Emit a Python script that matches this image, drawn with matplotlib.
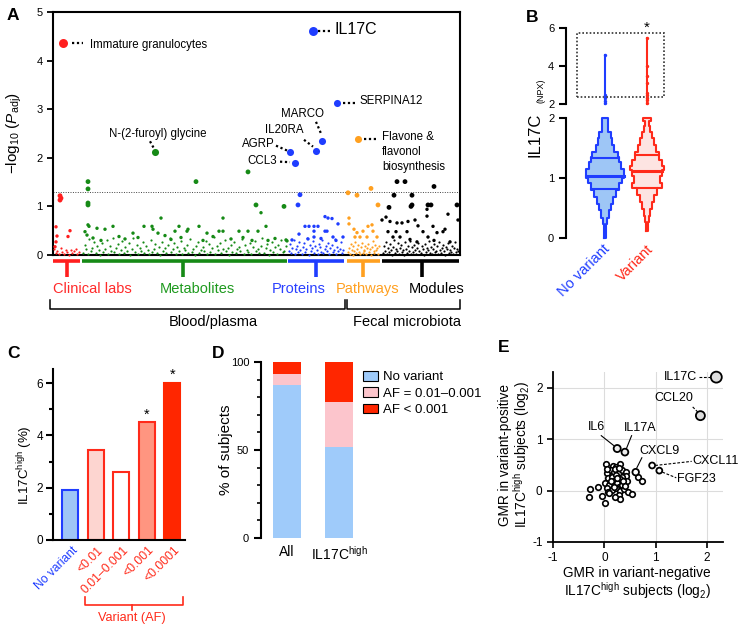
import matplotlib
matplotlib.use('Agg')
import matplotlib.pyplot as plt
import matplotlib.transforms as mtransforms
from matplotlib.patches import Rectangle, Patch
import numpy as np

plt.rcParams['font.family'] = ['Liberation Sans', 'DejaVu Sans']
plt.rcParams['mathtext.fontset'] = 'custom'
plt.rcParams['mathtext.rm'] = 'Liberation Sans'
plt.rcParams['mathtext.it'] = 'Liberation Sans:italic'
plt.rcParams['mathtext.bf'] = 'Liberation Sans:bold'
plt.rcParams['axes.unicode_minus'] = False

# ---------------- data ----------------
# Panel A : position along the feature axis, -log10(Padj)
red_x = [7, 8, 7, 3, 4, 17, 15, 3, 2]
red_y = [1.22, 1.17, 1.13, 0.58, 0.39, 0.50, 0.38, 0.27, 0.17]
red_low = [0.12, 0.05, 0.09, 0.02, 0.14, 0.07, 0.03, 0.10, 0.06, 0.01, 0.11, 0.04, 0.08, 0.13, 0.02, 0.06]

green_x = [35, 35, 35, 35, 35, 36, 32, 34, 44, 52, 60, 80, 91, 99, 100, 105, 108, 122, 126, 134, 135,
           143, 146, 154, 166, 170, 170, 186, 195, 195, 203, 205, 208, 213, 215, 231, 234, 233,
           40, 48, 66, 72, 85, 112, 118, 128, 150, 160, 178, 190, 199, 222]
green_y = [1.51, 1.36, 1.07, 1.03, 0.62, 0.59, 0.48, 0.41, 0.55, 0.53, 0.59, 0.45, 0.59, 0.59, 0.53, 0.45, 0.76, 0.49, 0.59, 0.49, 0.53,
           1.51, 0.59, 0.45, 0.49, 0.76, 0.49, 0.49, 1.71, 0.49, 1.03, 0.49, 0.87, 0.59, 0.30, 1.00, 0.29, 0.31,
           0.35, 0.30, 0.38, 0.33, 0.36, 0.40, 0.32, 0.36, 0.30, 0.38, 0.33, 0.36, 0.30, 0.34]
green_low = [0.05, 0.21, 0.12, 0.02, 0.33, 0.08, 0.15, 0.27, 0.04, 0.18, 0.10, 0.01, 0.24, 0.07, 0.13, 0.30, 0.03, 0.19,
             0.09, 0.36, 0.06, 0.14, 0.22, 0.02, 0.11, 0.28, 0.05, 0.17, 0.08, 0.25, 0.01, 0.12, 0.34, 0.06, 0.20, 0.03,
             0.15, 0.09, 0.26, 0.04, 0.18, 0.11, 0.02, 0.31, 0.07, 0.13, 0.22, 0.05, 0.16, 0.01, 0.27, 0.09, 0.14, 0.04,
             0.20, 0.35, 0.06, 0.12, 0.24, 0.03, 0.17, 0.08, 0.29, 0.02, 0.15, 0.10, 0.21, 0.05, 0.33, 0.07, 0.13, 0.01,
             0.19, 0.26, 0.04, 0.11, 0.16, 0.09, 0.28, 0.03, 0.22, 0.06, 0.14, 0.38, 0.02, 0.18, 0.10, 0.25, 0.05, 0.12,
             0.30, 0.08, 0.15, 0.01, 0.21, 0.07, 0.27, 0.04, 0.13, 0.17, 0.09, 0.32, 0.03, 0.20, 0.11, 0.06, 0.24, 0.02,
             0.16, 0.28, 0.08, 0.12, 0.05, 0.19, 0.35, 0.04, 0.14, 0.23, 0.01, 0.10, 0.26, 0.07, 0.17, 0.03, 0.21, 0.13,
             0.30, 0.06, 0.09, 0.18]

blue_x = [247, 245, 252, 256, 261, 261, 265, 272, 275, 279, 272, 274, 285, 290, 246, 239, 261, 280, 283, 268, 255]
blue_y = [1.24, 1.03, 0.59, 0.59, 0.59, 0.49, 0.59, 0.79, 0.76, 0.75, 0.49, 0.49, 0.64, 0.37, 0.43, 0.31, 0.37, 0.37, 0.30, 0.34, 0.33]
blue_low = [0.08, 0.22, 0.04, 0.15, 0.31, 0.02, 0.12, 0.19, 0.06, 0.27, 0.10, 0.03, 0.17, 0.24, 0.07, 0.13, 0.35, 0.01,
            0.20, 0.09, 0.14, 0.28, 0.05, 0.18, 0.11, 0.02, 0.23, 0.16, 0.07, 0.30, 0.04, 0.12, 0.19, 0.09, 0.25, 0.03,
            0.15, 0.21, 0.06, 0.11, 0.33, 0.02, 0.17, 0.08, 0.13, 0.26, 0.05, 0.10]

orange_x = [295, 304, 318, 325, 296, 296, 301, 304, 307, 310, 315, 319, 320, 314, 302, 324]
orange_y = [1.28, 1.23, 1.37, 1.03, 0.76, 0.64, 0.53, 0.46, 0.37, 0.49, 0.59, 0.62, 0.49, 0.37, 0.37, 0.37]
orange_low = [0.06, 0.15, 0.03, 0.22, 0.10, 0.01, 0.18, 0.08, 0.27, 0.04, 0.13, 0.20, 0.07, 0.02, 0.16, 0.25, 0.05, 0.11,
              0.09, 0.19, 0.03, 0.14, 0.23, 0.06, 0.12, 0.01, 0.17, 0.28, 0.08, 0.04, 0.21, 0.10, 0.15, 0.02, 0.18]

black_x = [344, 352, 381, 341, 359, 336, 359, 358, 375, 378, 374, 374, 395, 404, 405, 333, 329, 337, 344, 349, 355, 362,
           365, 380, 392, 335, 343, 354, 370, 384, 390, 340, 347, 357, 375, 381, 364, 397]
black_y = [1.51, 1.51, 1.41, 1.23, 1.23, 0.98, 1.03, 1.00, 1.03, 1.03, 0.94, 0.80, 0.84, 1.03, 0.72, 0.78, 0.72, 0.69, 0.66,
           0.66, 0.69, 0.72, 0.60, 0.59, 0.53, 0.48, 0.48, 0.48, 0.48, 0.46, 0.48, 0.37, 0.37, 0.32, 0.37, 0.30, 0.27, 0.27]
black_low = [0.04, 0.19, 0.09, 0.27, 0.02, 0.14, 0.06, 0.22, 0.11, 0.01, 0.17, 0.30, 0.05, 0.12, 0.08, 0.24, 0.03, 0.15,
             0.20, 0.07, 0.10, 0.01, 0.26, 0.13, 0.04, 0.18, 0.09, 0.29, 0.02, 0.16, 0.06, 0.21, 0.11, 0.03, 0.14, 0.25,
             0.08, 0.05, 0.19, 0.12, 0.01, 0.23, 0.07, 0.15, 0.10, 0.28, 0.04, 0.17, 0.02, 0.13, 0.22, 0.06, 0.09, 0.18,
             0.03, 0.26, 0.11, 0.05, 0.14, 0.20, 0.08, 0.01, 0.16, 0.12, 0.24, 0.04, 0.10, 0.07, 0.19, 0.02, 0.15, 0.27,
             0.06, 0.13, 0.09]

group_names = ['Clinical labs', 'Metabolites', 'Proteins', 'Pathways', 'Modules']
group_span = [(0, 27), (29, 234), (235, 291), (294, 327), (329, 406)]

hl_names = ['Immature granulocytes', 'N-(2-furoyl) glycine', 'AGRP', 'CCL3', 'IL20RA', 'MARCO',
            'IL17C', 'SERPINA12', 'Flavone &\nflavonol\nbiosynthesis']
hl_group = [0, 1, 2, 2, 2, 2, 2, 2, 3]
hl_x = [10, 102, 237, 242, 263, 269, 260, 284, 305]
hl_y = [4.37, 2.12, 2.12, 1.90, 2.15, 2.34, 4.60, 3.13, 2.38]

# Panel B : IL17C (NPX) violin outlines (level, half-width in px)
nv_levels = [0.0, 0.11, 0.23, 0.34, 0.46, 0.57, 0.69, 0.80, 0.92, 1.00, 1.15, 1.27, 1.35, 1.43, 1.55, 1.66, 1.77, 1.89, 2.0]
nv_width = [1.0, 1.3, 2.3, 4.0, 5.7, 8.0, 10.7, 14.0, 16.7, 19.0, 16.0, 14.0, 12.7, 9.3, 7.3, 6.0, 3.3, 2.7, 1.0]
var_levels = [0.12, 0.26, 0.37, 0.49, 0.60, 0.72, 0.83, 0.92, 1.04, 1.13, 1.20, 1.30, 1.43, 1.55, 1.66, 1.77, 1.86, 1.95, 2.0]
var_width = [1.3, 2.0, 3.3, 5.0, 7.3, 10.0, 15.0, 13.3, 15.0, 17.3, 15.0, 11.7, 9.3, 6.7, 5.0, 3.3, 1.7, 4.0, 2.0]
nv_quart = [0.82, 1.04, 1.33]
var_quart = [0.83, 1.12, 1.38]
nv_high = [2.05, 2.15, 2.3, 2.45, 4.6]
var_high = [2.05, 2.2, 2.3, 2.45, 2.6, 3.1, 3.5, 4.0, 5.45]

# Panel C : IL17C-high frequency (%)
c_labels = ['No variant', '<0.01', '0.01\u20130.001', '<0.001', '<0.0001']
c_values = [1.9, 3.45, 2.6, 4.5, 6.0]
c_star = [False, False, False, True, True]

# Panel D : % of subjects
d_groups = ['All', 'IL17C$^{\\mathrm{high}}$']
d_labels = ['No variant', 'AF = 0.01\u20130.001', 'AF < 0.001']
d_none = [87.0, 51.5]
d_mid = [6.0, 26.0]
d_rare = [7.0, 22.5]

# Panel E : GMR (log2)
e_x = [0.65, 0.74, 0.04, 0.16, 0.31, 0.23, 0.05, 0.12, 0.18, 0.25, 0.28, 0.35, 0.42, 0.42, 0.35, 0.08, 0.15, 0.22,
       0.31, 0.44, 0.02, 0.10, 0.18, 0.25, 0.28, 0.35, 0.05, 0.14, 0.22, 0.31, 0.38, 0.46, 0.53, 0.28, 0.30, 0.20,
       0.07, -0.05, 0.01, -0.27, -0.13, -0.29, 0.10, 0.18, 0.25, 0.12, 0.20, 0.28, 0.05, 0.36, 0.40]
e_y = [0.26, 0.19, 0.51, 0.48, 0.51, 0.47, 0.34, 0.40, 0.37, 0.40, 0.34, 0.40, 0.37, 0.29, 0.27, 0.24, 0.27, 0.31,
       0.22, 0.18, 0.14, 0.11, 0.18, 0.14, 0.08, 0.11, 0.05, 0.01, 0.05, 0.00, 0.03, -0.02, -0.06, -0.08, -0.16, -0.13,
       -0.02, -0.10, -0.25, 0.03, 0.08, -0.13, -0.05, 0.08, 0.24, 0.18, 0.42, 0.44, 0.42, 0.18, 0.09]
e_names = ['IL17C', 'CCL20', 'IL6', 'IL17A', 'CXCL9', 'CXCL11', 'FGF23']
e_lx = [2.18, 1.87, 0.25, 0.40, 0.61, 0.93, 1.07]
e_ly = [2.21, 1.46, 0.82, 0.75, 0.36, 0.49, 0.39]

# ---------------- figure ----------------
W, H = 752, 628
fig = plt.figure(figsize=(W / 100, H / 100), dpi=100)


def rect(l, t, r, b):
    return [l / W, 1 - b / H, (r - l) / W, (b - t) / H]


def fx(px):
    return px / W


def fy(px):
    return 1 - px / H


blue = '#1f3dff'
red = '#ff2a1a'
green = '#168a16'
orange = '#ffa020'
grp_col = ['#ff1f1f', green, blue, orange, 'black']
lab_col = ['#ff2a2a', '#1f9a1f', '#2a40ff', '#ffa020', 'black']

for lab, x, y in [('A', 13, 16), ('B', 532, 17), ('C', 13, 354), ('D', 218, 354), ('E', 504, 348)]:
    fig.text(fx(x), fy(y), lab, fontsize=12.5, fontweight='bold', ha='center', va='center')

# ---- Panel A ----
axA = fig.add_axes(rect(53, 12, 460, 255))
axA.set_xlim(0, 407)
axA.set_ylim(0, 5)


def yA(px):
    return (255 - px) / 48.6


groups = [(red_x, red_y, red_low), (green_x, green_y, green_low), (blue_x, blue_y, blue_low),
          (orange_x, orange_y, orange_low), (black_x, black_y, black_low)]
for k, (gx, gy, low) in enumerate(groups):
    x0, x1 = group_span[k]
    lx = np.linspace(x0 + 1, x1 - 1, len(low))
    axA.scatter(lx, low, s=2.5, color=grp_col[k], lw=0, clip_on=False, zorder=3)
    gy = np.array(gy)
    axA.scatter(gx, gy, s=np.where(gy >= 0.95, 12, 6), color=grp_col[k], lw=0, zorder=3)
for k in range(len(hl_names)):
    size = 42 if hl_names[k] in ('IL17C', 'Immature granulocytes') else 26
    axA.scatter(hl_x[k], hl_y[k], s=size, color=grp_col[hl_group[k]], lw=0, zorder=4)

axA.axhline(1.3, color='#444444', lw=0.7, ls=(0, (1, 1.5)), zorder=2)
axA.set_xticks([])
axA.set_yticks(range(6))
axA.tick_params(axis='y', length=4, width=1.3, labelsize=8)
for s in axA.spines.values():
    s.set_linewidth(1.5)
axA.set_ylabel('\u2212log$_{10}$ ($P_{\\mathrm{adj}}$)', fontsize=11)
axA.yaxis.set_label_coords(-0.072, 0.5)

dot = dict(color='black', lw=1.6, ls=(0, (1, 1.2)))
fs = 8.3
axA.plot([19, 30], [4.37, 4.37], **dot)
axA.text(37, 4.32, hl_names[0], fontsize=fs, va='center')
axA.plot([97, 101], [2.34, 2.19], **dot)
axA.text(105, yA(134), hl_names[1], fontsize=fs, ha='center', va='center')
axA.plot([223, 234], [2.25, 2.15], **dot)
axA.text(222, yA(144), hl_names[2], fontsize=fs, ha='right', va='center')
axA.plot([227, 237], [1.92, 1.91], **dot)
axA.text(224, yA(161), hl_names[3], fontsize=fs, ha='right', va='center')
axA.plot([251, 260], [2.37, 2.23], **dot)
axA.text(231, yA(130), hl_names[4], fontsize=fs, ha='center', va='center')
axA.plot([263, 268], [2.74, 2.50], **dot)
axA.text(249, yA(114), hl_names[5], fontsize=fs, ha='center', va='center')
axA.plot([265, 277], [4.6, 4.6], **dot)
axA.text(282, yA(29), hl_names[6], fontsize=11.5, va='center')
axA.plot([290, 303], [3.13, 3.13], **dot)
axA.text(307, yA(101), hl_names[7], fontsize=fs, va='center')
axA.plot([311, 324], [2.39, 2.39], **dot)
axA.text(329, yA(131), hl_names[8], fontsize=fs, va='top', linespacing=1.32)

tick_c = [14, 130, 263, 310, 369]
text_c = [39, 144, 246, 315, 384]
for k in range(5):
    x0, x1 = group_span[k]
    axA.plot([x0, x1], [yA(261), yA(261)], color=grp_col[k], lw=2.6, clip_on=False, solid_capstyle='butt')
    axA.plot([tick_c[k], tick_c[k]], [yA(261), yA(277)], color=grp_col[k], lw=2.6, clip_on=False,
             solid_capstyle='butt')
    axA.text(text_c[k], yA(289), group_names[k], color=lab_col[k], fontsize=10.5, ha='center', va='center')
for x0, x1, xt, name in [(-3, 292, 160, 'Blood/plasma'), (294, 407, 354, 'Fecal microbiota')]:
    axA.plot([x0, x0, x1, x1], [yA(300), yA(309), yA(309), yA(300)], color='black', lw=1.1, clip_on=False)
    axA.text(xt, yA(322), name, fontsize=10.5, ha='center', va='center')

# ---- Panel B ----
axB = fig.add_axes(rect(566, 118, 672, 238))
axBu = fig.add_axes(rect(566, 28, 672, 104))
for ax in (axB, axBu):
    ax.set_xlim(0.07, 2.6)
    for s in ('top', 'right', 'bottom'):
        ax.spines[s].set_visible(False)
    ax.spines['left'].set_linewidth(1.5)
    ax.set_xticks([])
    ax.tick_params(axis='y', length=5, width=1.5, labelsize=8)
axB.set_ylim(0, 2)
axB.set_yticks([0, 1, 2])
axBu.set_ylim(2, 6)
axBu.set_yticks([2, 4, 6])


def violin(ax, xc, levels, widths, quart, edge, face):
    lv = np.array(levels)
    w = np.array(widths) / 42.0
    ys = np.repeat(lv, 2)[1:-1]
    ws = np.repeat(w[:-1], 2)
    ax.fill_betweenx(ys, xc - ws, xc + ws, color=face, lw=0, zorder=2)
    px = np.r_[xc - ws, (xc + ws)[::-1], xc - ws[0]]
    py = np.r_[ys, ys[::-1], ys[0]]
    ax.plot(px, py, color=edge, lw=1.5, zorder=3, clip_on=False)
    for i, q in enumerate(quart):
        idx = max(np.searchsorted(lv, q) - 1, 0)
        hw = w[idx]
        ax.plot([xc - hw, xc + hw], [q, q], color=edge, lw=2.2 if i == 1 else 1.5, zorder=3)


violin(axB, 1, nv_levels, nv_width, nv_quart, blue, '#9ec6f6')
violin(axB, 2, var_levels, var_width, var_quart, red, '#fde4e2')
axBu.plot([1, 1], [2, max(nv_high)], color=blue, lw=1.5, clip_on=False)
axBu.scatter([1] * len(nv_high), nv_high, s=6, color=blue, lw=0, clip_on=False)
axBu.plot([2, 2], [2, max(var_high)], color=red, lw=1.5, clip_on=False)
axBu.scatter([2] * len(var_high), var_high, s=6, color=red, lw=0, clip_on=False)
axBu.add_patch(Rectangle((0.333, 2.37), 2.072, 3.37, fill=False, ls=(0, (1, 1.2)), lw=1.2,
                         ec='#333333', clip_on=False))
axBu.text(2, 6.0, '*', ha='center', va='center', fontsize=11, clip_on=False)
fig.text(fx(535), fy(135), 'IL17C', rotation=90, fontsize=12, ha='center', va='center')
fig.text(fx(541), fy(91), '(NPX)', rotation=90, fontsize=6.5, ha='center', va='center')
fig.text(fx(608), fy(247), 'No variant', rotation=45, rotation_mode='anchor', ha='right', va='center',
         color=blue, fontsize=10.5)
fig.text(fx(651), fy(247), 'Variant', rotation=45, rotation_mode='anchor', ha='right', va='center',
         color=red, fontsize=10.5)

# ---- Panel C ----
axC = fig.add_axes(rect(53, 369, 185, 540))
c_face = ['#9ec6f6', '#fdd5d0', 'white', '#ff9580', '#ff2600']
c_edge = [blue, red, red, red, '#ff2600']
axC.bar(range(len(c_values)), c_values, width=0.63, color=c_face, edgecolor=c_edge, lw=1.5, zorder=2)
axC.set_xlim(-0.67, 4.5)
axC.set_ylim(0, 6.54)
axC.set_yticks([0, 2, 4, 6])
axC.set_yticks([1, 3, 5], minor=True)
axC.tick_params(axis='y', which='major', length=5, width=1.5, labelsize=8.5, pad=2)
axC.tick_params(axis='y', which='minor', length=3, width=1.5)
axC.set_xticks([])
for s in ('top', 'right'):
    axC.spines[s].set_visible(False)
axC.spines['left'].set_linewidth(1.5)
axC.spines['bottom'].set_linewidth(1.5)
for i, v in enumerate(c_values):
    if c_star[i]:
        axC.text(i, v + 0.3, '*', ha='center', va='center', fontsize=10.5)
trC = mtransforms.blended_transform_factory(axC.transData, axC.transAxes)
for i, lab in enumerate(c_labels):
    axC.text(i + 0.05, -0.025, lab, transform=trC, rotation=45, rotation_mode='anchor', ha='right', va='top',
             color=blue if i == 0 else red, fontsize=8.7)
fig.text(fx(25), fy(465), 'IL17C$^{\\mathrm{high}}$ (%)', rotation=90, fontsize=9.6, ha='center', va='center')
fig.add_artist(plt.Line2D([fx(85), fx(85), fx(183), fx(183)], [fy(597), fy(605), fy(605), fy(597)],
                          color=red, lw=1.2))
fig.add_artist(plt.Line2D([fx(132), fx(132)], [fy(605), fy(610)], color=red, lw=1.2))
fig.text(fx(132), fy(618), 'Variant (AF)', color=red, fontsize=9.2, ha='center', va='center')

# ---- Panel D ----
axD = fig.add_axes(rect(261, 362, 365, 538))
d_cols = ['#9fcbfa', '#fcc5cc', '#ff2600']
bottom = np.zeros(2)
for vals, col in zip([d_none, d_mid, d_rare], d_cols):
    axD.bar([0, 1], vals, bottom=bottom, width=0.52, color=col, lw=0)
    bottom = bottom + np.array(vals)
axD.set_xlim(-0.5, 1.5)
axD.set_ylim(0, 100)
axD.set_yticks([0, 50, 100])
axD.set_yticks(range(0, 101, 10), minor=True)
axD.tick_params(axis='y', which='major', length=5, width=1.5, labelsize=8)
axD.tick_params(axis='y', which='minor', length=3, width=1.2)
axD.set_xticks([0, 1])
axD.set_xticklabels(d_groups, fontsize=10)
axD.tick_params(axis='x', length=0, pad=5)
for s in ('top', 'right', 'bottom'):
    axD.spines[s].set_visible(False)
axD.spines['left'].set_linewidth(1.5)
axD.set_ylabel('% of subjects', fontsize=11)
axD.yaxis.set_label_coords(-0.27, 0.5)
handles = [Patch(facecolor=c, edgecolor='black', lw=0.8) for c in d_cols]
axD.legend(handles, d_labels, loc='upper left', bbox_to_anchor=(fx(363), fy(371)),
           bbox_transform=fig.transFigure, frameon=False, fontsize=9.5, handlelength=1.1,
           handleheight=0.75, handletextpad=0.4, labelspacing=0.3, borderpad=0, borderaxespad=0)

# ---- Panel E ----
axE = fig.add_axes(rect(553, 372, 723, 542))
axE.set_xlim(-1, 2.31)
axE.set_ylim(-1, 2.31)
axE.set_xticks([-1, 0, 1, 2])
axE.set_yticks([-1, 0, 1, 2])
axE.grid(color='#dcdcdc', lw=0.8)
axE.set_axisbelow(True)
for s in ('top', 'right'):
    axE.spines[s].set_visible(False)
axE.spines['left'].set_linewidth(1.3)
axE.spines['bottom'].set_linewidth(1.3)
axE.tick_params(length=4, width=1.2, labelsize=8.5)
axE.scatter(e_x, e_y, s=16, facecolor='white', edgecolor='black', lw=1.2, zorder=3)
e_size = [62, 42, 26, 24, 22, 18, 18]
e_face = ['#dddddd', '#dddddd', '#eeeeee', '#eeeeee', 'white', 'white', 'white']
axE.scatter(e_lx, e_ly, s=e_size, facecolor=e_face, edgecolor='black', lw=1.3, zorder=4, clip_on=False)
dash = dict(color='black', lw=0.8, ls=(0, (2.5, 1.5)))
efs = 9
axE.plot([1.84, 2.08], [2.22, 2.22], **dash)
axE.text(1.81, 2.22, e_names[0], fontsize=efs, ha='right', va='center')
axE.plot([1.72, 1.83], [1.63, 1.52], **dash)
axE.text(1.35, 1.80, e_names[1], fontsize=efs, ha='center', va='center')
axE.plot([-0.06, 0.18], [1.07, 0.88], color='black', lw=0.8)
axE.text(-0.15, 1.23, e_names[2], fontsize=efs, ha='center', va='center')
axE.plot([0.53, 0.43], [1.07, 0.82], color='black', lw=0.8)
axE.text(0.70, 1.22, e_names[3], fontsize=efs, ha='center', va='center')
axE.plot([0.73, 0.63], [0.64, 0.44], color='black', lw=0.8)
axE.text(1.07, 0.78, e_names[4], fontsize=efs, ha='center', va='center')
axE.plot([0.99, 1.70], [0.49, 0.57], **dash)
axE.text(1.72, 0.58, e_names[5], fontsize=efs, ha='left', va='center', clip_on=False)
axE.plot([1.13, 1.40], [0.36, 0.25], **dash)
axE.text(1.42, 0.23, e_names[6], fontsize=efs, ha='left', va='center')
fig.text(fx(637), fy(573), 'GMR in variant-negative', fontsize=9.8, ha='center', va='center')
fig.text(fx(637), fy(591), 'IL17C$^{\\mathrm{high}}$ subjects (log$_2$)', fontsize=9.8, ha='center', va='center')
fig.text(fx(505), fy(455), 'GMR in variant-positive', fontsize=9.8, ha='center', va='center', rotation=90)
fig.text(fx(522), fy(455), 'IL17C$^{\\mathrm{high}}$ subjects (log$_2$)', fontsize=9.8, ha='center', va='center',
         rotation=90)

fig.savefig('out.png', dpi=100)
